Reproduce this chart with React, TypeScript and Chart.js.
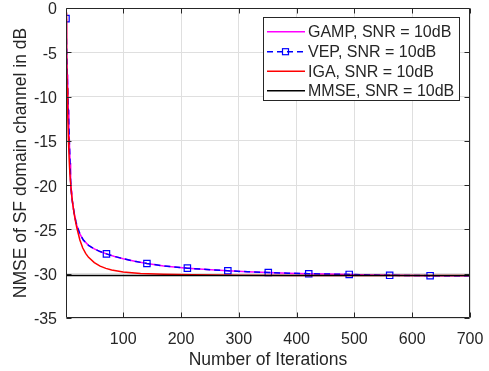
import React, { useEffect, useRef } from "react";
import { Chart, registerables } from "chart.js";

Chart.register(...registerables);

// ---- data ----
const gampIters = [1, 2, 3, 4, 5, 6, 7, 8, 9, 10, 11, 13, 15, 18, 20, 25, 31, 40, 50, 60, 71, 85, 100, 120, 141, 170, 211, 245, 281, 315, 351, 385, 421, 455, 491, 525, 561, 595, 631, 665, 700];
const gampNmse = [-1.2, -4.5, -7.5, -9.5, -11.5, -13.5, -15.5, -17.5, -19.5, -20.6, -21.3, -22.3, -23.1, -24.1, -24.6, -25.5, -26.2, -26.8, -27.2, -27.5, -27.76, -28.05, -28.3, -28.6, -28.85, -29.12, -29.37, -29.53, -29.67, -29.78, -29.86, -29.94, -30.0, -30.04, -30.08, -30.14, -30.18, -30.2, -30.22, -30.23, -30.24];
const vepIters = gampIters;
const vepNmse = gampNmse;
const vepMarkerIters = [1, 71, 141, 211, 281, 351, 421, 491, 561, 631];
const igaIters = [1, 2, 3, 4, 5, 6, 7, 8, 10, 12, 15, 18, 20, 25, 30, 35, 40, 50, 60, 70, 80, 100, 130, 170, 220, 300, 400, 500, 600, 700];
const igaNmse = [-0.5, -5, -9, -12, -14.5, -16.3, -17.8, -19, -20.6, -21.8, -23.2, -24.3, -24.9, -26.2, -27.1, -27.7, -28.15, -28.75, -29.15, -29.4, -29.58, -29.8, -29.97, -30.07, -30.13, -30.17, -30.19, -30.2, -30.2, -30.2];
const mmseIters = [1, 700];
const mmseNmse = [-30.2, -30.2];
const xTicks = [100, 200, 300, 400, 500, 600, 700];
const seriesLabels = ["GAMP, SNR = 10dB", "VEP, SNR = 10dB", "IGA, SNR = 10dB", "MMSE, SNR = 10dB"];

const FONT = "'Liberation Sans', Arial, Helvetica, sans-serif";
const TXT = "#262626";

const zip = (xs: number[], ys: number[]) => xs.map((x, i) => ({ x, y: ys[i] }));

const boxPlugin = {
  id: "boxPlugin",
  afterDatasetsDraw(chart: any) {
    const { ctx, chartArea: a, scales } = chart;
    ctx.save();
    ctx.strokeStyle = TXT;
    ctx.lineWidth = 1;
    const L = Math.round(a.left) + 0.5, R = Math.round(a.right) - 0.5;
    const T = Math.round(a.top) + 0.5, B = Math.round(a.bottom) - 0.5;
    ctx.beginPath();
    ctx.rect(L, T, R - L, B - T);
    const tl = 5;
    xTicks.forEach((v) => {
      const px = Math.round(scales.x.getPixelForValue(v)) + 0.5;
      ctx.moveTo(px, B); ctx.lineTo(px, B - tl);
      ctx.moveTo(px, T); ctx.lineTo(px, T + tl);
    });
    for (let v = -35; v <= 0; v += 5) {
      const py = Math.round(scales.y.getPixelForValue(v)) + 0.5;
      ctx.moveTo(L, py); ctx.lineTo(L + tl, py);
      ctx.moveTo(R, py); ctx.lineTo(R - tl, py);
    }
    ctx.stroke();
    ctx.restore();
  },
  afterDraw(chart: any) {
    const { ctx } = chart;
    ctx.save();
    const bx = 263.5, by = 17.5, bw = 196, bh = 83;
    ctx.fillStyle = "#ffffff";
    ctx.fillRect(bx, by, bw, bh);
    ctx.strokeStyle = TXT;
    ctx.lineWidth = 1;
    ctx.strokeRect(bx, by, bw, bh);
    const rows = [31.7, 51.7, 71.2, 90.7];
    const ds = chart.data.datasets;
    ctx.font = `16px ${FONT}`;
    ctx.textBaseline = "middle";
    ctx.textAlign = "left";
    rows.forEach((ry, i) => {
      const d = ds[i];
      ctx.strokeStyle = d.borderColor;
      ctx.lineWidth = d.borderWidth;
      ctx.setLineDash(d.borderDash || []);
      ctx.beginPath();
      ctx.moveTo(267, ry);
      ctx.lineTo(305, ry);
      ctx.stroke();
      ctx.setLineDash([]);
      if (i === 1) {
        ctx.lineWidth = 1.2;
        ctx.strokeRect(282.5, ry - 3, 6, 6);
      }
      ctx.fillStyle = TXT;
      ctx.fillText(seriesLabels[i], 308, ry + 1);
    });
    ctx.restore();
  },
};

export default function App() {
  const ref = useRef<HTMLCanvasElement | null>(null);
  useEffect(() => {
    document.body.style.margin = "0";
    const chart = new Chart(ref.current as HTMLCanvasElement, {
      type: "scatter",
      data: {
        datasets: [
          {
            label: seriesLabels[0],
            data: zip(gampIters, gampNmse),
            showLine: true,
            borderColor: "#ff00ff",
            borderWidth: 1.5,
            pointRadius: 0,
            order: 4,
          },
          {
            label: seriesLabels[1],
            data: zip(vepIters, vepNmse),
            showLine: true,
            borderColor: "#0000ff",
            borderWidth: 1.5,
            borderDash: [6, 4],
            pointStyle: "rect",
            pointRadius: (c: any) => (c.raw && vepMarkerIters.includes(c.raw.x) ? 4.5 : 0),
            pointBorderColor: "#0000ff",
            pointBackgroundColor: "rgba(0,0,0,0)",
            pointBorderWidth: 1.2,
            order: 3,
          },
          {
            label: seriesLabels[2],
            data: zip(igaIters, igaNmse),
            showLine: true,
            borderColor: "#ff0000",
            borderWidth: 1.5,
            pointRadius: 0,
            order: 2,
          },
          {
            label: seriesLabels[3],
            data: zip(mmseIters, mmseNmse),
            showLine: true,
            borderColor: "#000000",
            borderWidth: 1.5,
            pointRadius: 0,
            order: 1,
          },
        ] as any,
      },
      options: {
        animation: false,
        responsive: false,
        layout: { padding: { left: 0, right: 19, top: 8, bottom: 0 } },
        plugins: { legend: { display: false }, tooltip: { enabled: false } },
        elements: { line: { tension: 0 } },
        scales: {
          x: {
            type: "linear",
            min: 1,
            max: 700,
            afterBuildTicks: (s: any) => {
              s.ticks = xTicks.map((v) => ({ value: v }));
            },
            afterFit: (s: any) => {
              s.height = 53;
              s.paddingLeft = 0;
              s.paddingRight = 0;
            },
            grid: { color: "#dfdfdf", drawTicks: false },
            border: { display: false },
            ticks: { color: TXT, font: { size: 16, family: FONT }, padding: 12 },
            title: {
              display: true,
              text: "Number of Iterations",
              color: TXT,
              font: { size: 17.5, family: FONT },
              padding: { top: 0, bottom: 0 },
            },
          },
          y: {
            min: -35,
            max: 0,
            afterFit: (s: any) => {
              s.width = 66;
              s.paddingTop = 0;
              s.paddingBottom = 0;
            },
            grid: { color: "#dfdfdf", drawTicks: false },
            border: { display: false },
            ticks: { stepSize: 5, color: TXT, font: { size: 16, family: FONT }, padding: 9, labelOffset: 2 },
            title: {
              display: true,
              text: "NMSE of SF domain channel in dB",
              color: TXT,
              font: { size: 17.5, family: FONT },
              padding: { top: 11, bottom: 0 },
            },
          },
        },
      } as any,
      plugins: [boxPlugin],
    });
    return () => chart.destroy();
  }, []);
  return (
    <div style={{ position: "fixed", left: 0, top: 0, width: 489, height: 371, background: "#fff" }}>
      <canvas ref={ref} width={489} height={371} style={{ display: "block" }} />
    </div>
  );
}
